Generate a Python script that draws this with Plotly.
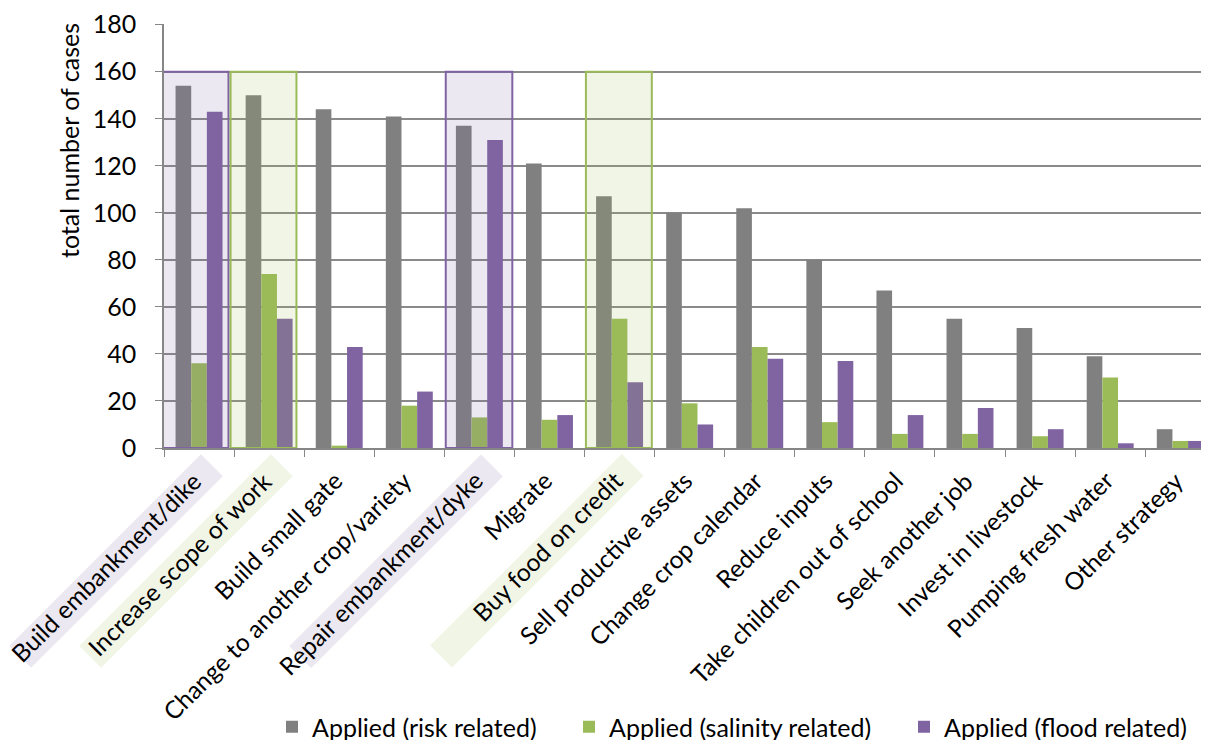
import plotly.graph_objects as go

categories = [
    "Build embankment/dike", "Increase scope of work", "Build small gate",
    "Change to another crop/variety", "Repair embankment/dyke", "Migrate",
    "Buy food on credit", "Sell productive assets", "Change crop calendar",
    "Reduce inputs", "Take children out of school", "Seek another job",
    "Invest in livestock", "Pumping fresh water", "Other strategy",
]
risk = [154, 150, 144, 141, 137, 121, 107, 100, 102, 80, 67, 55, 51, 39, 8]
salinity = [36, 74, 1, 18, 13, 12, 55, 19, 43, 11, 6, 6, 5, 30, 3]
flood = [143, 55, 43, 24, 131, 14, 28, 10, 38, 37, 14, 17, 8, 2, 3]
series_names = ["Applied (risk related)", "Applied (salinity related)", "Applied (flood related)"]
y_ticks = [0, 20, 40, 60, 80, 100, 120, 140, 160, 180]
y_title = "total number of cases"

# highlighted categories: (category, theme)
highlighted = [
    ("Build embankment/dike", "flood"),
    ("Increase scope of work", "salinity"),
    ("Repair embankment/dyke", "flood"),
    ("Buy food on credit", "salinity"),
]
highlight_top = 160

GREY = "#808080"
GREEN = "#9BBB59"
PURPLE = "#8064A2"
FONT = "Lato"
FS = 25
FS_CAT = 24.5

# page body has an 8px margin: figure is 8px smaller and offset
W, H = 1201, 732
ML, MT, MB = 156, 16, 292
PW, PH = W - ML, H - MT - MB

theme_line = {"flood": PURPLE, "salinity": GREEN}
theme_fill = {"flood": "rgba(128,100,162,0.15)", "salinity": "rgba(155,187,89,0.15)"}
theme_bg = {"flood": "#ECE8F1", "salinity": "#F0F5E6"}
box_offsets = {
    "Build embankment/dike": (-0.52, 0.42),
    "Increase scope of work": (-0.55, 0.39),
    "Repair embankment/dyke": (-0.48, 0.47),
    "Buy food on credit": (-0.48, 0.46),
}

fig = go.Figure()
for name, vals, color, leg in zip(series_names, [risk, salinity, flood],
                                  [GREY, GREEN, PURPLE], ["legend", "legend2", "legend3"]):
    fig.add_bar(x=categories, y=vals, name=name, legend=leg,
                marker=dict(color=color, line=dict(width=0)))

hl = dict(highlighted)
for cat, theme in highlighted:
    i = categories.index(cat)
    o0, o1 = box_offsets[cat]
    fig.add_shape(type="rect", xref="x", yref="y", x0=i + o0, x1=i + o1,
                  y0=0, y1=highlight_top, layer="above",
                  line=dict(color=theme_line[theme], width=2),
                  fillcolor=theme_fill[theme])
    # rotated highlight band behind the tick label
    fig.add_annotation(
        x=cat, y=0, xref="x", yref="y", text=" ", showarrow=False,
        textangle=-45, xanchor="center", yanchor="middle",
        xshift=-83, yshift=-113, width=268, height=28, borderpad=1,
        bgcolor=theme_bg[theme], font=dict(family=FONT, size=FS_CAT),
    )

for cat in categories:
    fig.add_annotation(
        x=cat, y=0, xref="x", yref="y", text=cat, showarrow=False,
        textangle=-45, xanchor="right", yanchor="top",
        xshift=11, yshift=-15,
        font=dict(family=FONT, size=FS_CAT, color="#000000"),
    )

# y-axis title (sits high, next to the upper part of the axis)
fig.add_annotation(
    text=y_title, xref="paper", yref="paper",
    x=(61 - ML) / PW, y=(440 - 133) / PH, textangle=-90,
    xanchor="center", yanchor="middle", showarrow=False,
    font=dict(family=FONT, size=FS, color="#000"),
)

leg_common = dict(orientation="h", yanchor="middle", y=(H - 719) / H, yref="container",
                  xanchor="left", xref="container",
                  bgcolor="rgba(0,0,0,0)", font=dict(family=FONT, size=FS, color="#000"),
                  borderwidth=0)

fig.update_layout(
    width=W, height=H, autosize=False,
    margin=dict(l=ML, r=0, t=MT, b=MB, pad=0),
    paper_bgcolor="white", plot_bgcolor="white",
    font=dict(family=FONT, size=FS, color="#000"),
    bargap=0.33, bargroupgap=0, barmode="group",
    legend=dict(leg_common, x=264 / W),
    legend2=dict(leg_common, x=561 / W),
    legend3=dict(leg_common, x=896 / W),
    xaxis=dict(type="category", range=[-0.5, 14.41], showticklabels=False,
               ticks="outside", tickson="boundaries", ticklen=7, tickcolor="#868686",
               showline=True, linecolor="#868686", linewidth=1.5, showgrid=False,
               zeroline=False, fixedrange=True, automargin=False),
    yaxis=dict(range=[0, 180.3], tickvals=y_ticks, ticks="outside", ticklen=7,
               tickcolor="#868686", showline=True, linecolor="#868686", linewidth=1.5,
               showgrid=True, gridcolor="#8a8a8a", gridwidth=1.5, zeroline=False,
               ticklabelstandoff=14, automargin=False, ticklabeloverflow="allow",
               tickfont=dict(family=FONT, size=FS, color="#000")),
    showlegend=True,
)

fig.write_html("out.html")
